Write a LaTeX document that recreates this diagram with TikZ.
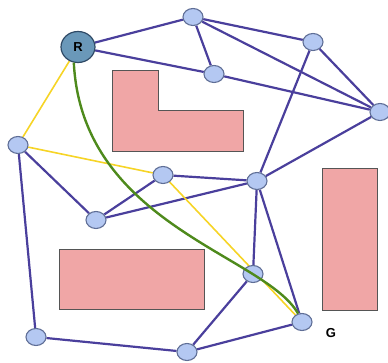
\documentclass[tikz,border=0pt]{standalone}
\usepackage{fontspec}
\setmainfont{Liberation Sans}
\usetikzlibrary{shapes.geometric}
\definecolor{edgeblue}{HTML}{4A3F9C}
\definecolor{nodefill}{HTML}{B4C8F2}
\definecolor{nodeline}{HTML}{5F6E96}
\definecolor{rootfill}{HTML}{6A98B9}
\definecolor{rootline}{HTML}{2F4A66}
\definecolor{obstacle}{HTML}{F0A6A6}
\definecolor{obsline}{HTML}{555555}
\definecolor{pathyellow}{HTML}{F6D426}
\definecolor{pathgreen}{HTML}{4E8A1C}
\pgfdeclarelayer{obstacles}
\pgfdeclarelayer{links}
\pgfdeclarelayer{route}
\pgfsetlayers{obstacles,links,main,route}
\tikzset{
  vertex/.style={ellipse, draw=nodeline, fill=nodefill, line width=1.1pt,
    minimum width=20pt, minimum height=17pt, inner sep=0pt},
  rootnode/.style={ellipse, draw=rootline, fill=rootfill, line width=1.2pt,
    minimum width=34pt, minimum height=31pt, inner sep=0pt,
    font=\bfseries\fontsize{13}{13}\selectfont},
  obst/.style={fill=obstacle, draw=obsline, line width=1pt},
  link/.style={draw=edgeblue, line width=2.2pt},
  ylink/.style={draw=pathyellow, line width=1.6pt},
  gpath/.style={draw=pathgreen, line width=2.4pt},
  goal/.style={font=\bfseries\fontsize{13}{13}\selectfont},
}
\begin{document}
\begin{tikzpicture}[x=1pt, y=-1pt]
\useasboundingbox (0,0) rectangle (388,363);
% graph vertices
\node[rootnode] (R) at (78,47) {R};
\node[vertex] (a) at (193,17) {};
\node[vertex] (b) at (313,42) {};
\node[vertex] (c) at (214,74) {};
\node[vertex] (d) at (380,112) {};
\node[vertex] (e) at (18,145) {};
\node[vertex] (f) at (163,175) {};
\node[vertex] (g) at (257,181) {};
\node[vertex] (h) at (96,220) {};
\node[vertex] (i) at (253,274) {};
\node[vertex] (G) at (302,322) {};
\node[vertex] (k) at (36,337) {};
\node[vertex] (l) at (187,352) {};
\node[goal] (Glabel) at (331,333) {G};
% obstacles
\begin{pgfonlayer}{obstacles}
\draw[obst] (112,71) -- (158,71) -- (158,111) -- (243,111) -- (243,152) -- (112,152) -- cycle;
\draw[obst] (59,250) rectangle (204,309);
\draw[obst] (322,169) rectangle (377,310);
\end{pgfonlayer}
% roadmap edges
\begin{pgfonlayer}{links}
\draw[link] (R) -- (a);
\draw[link] (R) -- (c);
\draw[link] (a) -- (b);
\draw[link] (a) -- (c);
\draw[link] (a) -- (d);
\draw[link] (c) -- (d);
\draw[link] (b) -- (d);
\draw[link] (b) -- (g);
\draw[link] (d) -- (g);
\draw[link] (e) -- (h);
\draw[link] (e) -- (k);
\draw[link] (f) -- (g);
\draw[link] (f) -- (h);
\draw[link] (h) -- (g);
\draw[link] (g) -- (i);
\draw[link] (g) -- (G);
\draw[link] (i) -- (l);
\draw[link] (G) -- (l);
\draw[link] (k) -- (l);
\draw[ylink] (R) -- (e);
\draw[ylink] (e) -- (f);
\draw[ylink] (f) -- (G);
\end{pgfonlayer}
% smoothed route from R to G
\begin{pgfonlayer}{route}
\draw[gpath] (R.255) .. controls (82,225) and (265,255) .. (G.115);
\end{pgfonlayer}
\end{tikzpicture}
\end{document}
